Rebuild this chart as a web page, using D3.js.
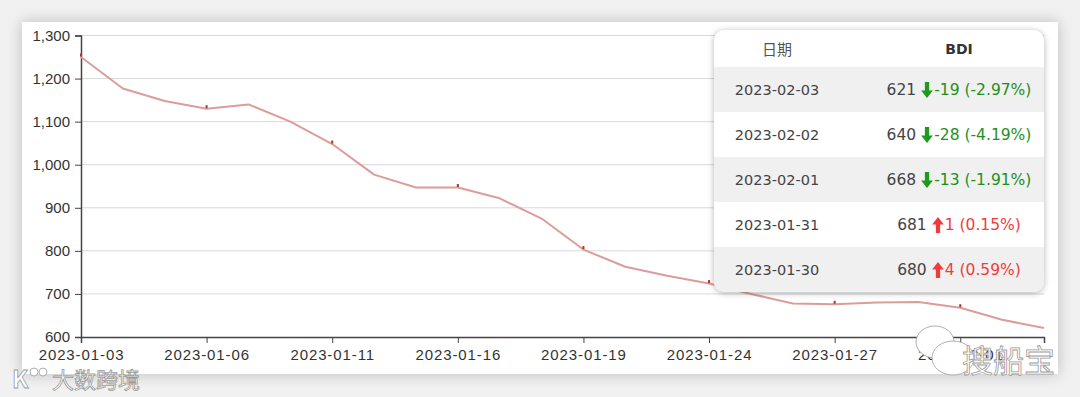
<!DOCTYPE html>
<html>
<head>
<meta charset="utf-8">
<script src="https://cdn.jsdelivr.net/npm/d3@7"></script>
<style>
  html, body { margin: 0; padding: 0; }
  body { width: 1080px; height: 397px; background: #f1f1f1; position: relative; overflow: hidden; }
  .card { position: absolute; left: 22px; top: 22px; width: 1036px; height: 352px; background: #fff;
          box-shadow: 0 0 14px rgba(0,0,0,0.22); }
  #chart { position: absolute; left: 0; top: 0; }
  .tip { position: absolute; left: 714px; top: 30px; width: 330px; background: #fff; border-radius: 10px;
         box-shadow: 0 1px 6px rgba(0,0,0,0.3); overflow: hidden; font-family: "DejaVu Sans", sans-serif;
         font-size: 14.5px; color: #444; }
  .tip .row { display: flex; height: 45px; align-items: center; }
  .tip .row.head { height: 37px; color: #555; }
  .tip .row.alt { background: #f0f0f0; }
  .tip .c1 { width: 126px; text-align: center; }
  .tip .c2 { width: 170px; margin-left: auto; text-align: center; white-space: nowrap; font-size: 15.5px; }
  .tip .c2 svg { vertical-align: -3px; margin: 0 1px 0 5px; }
  .tip .head .c1 { font-family: "Noto Sans CJK SC", sans-serif; font-size: 15px; }
  .tip .head .c2 { font-weight: bold; color: #333; font-size: 14px; }
</style>
</head>
<body>
<div class="card"></div>
<svg id="chart" width="1080" height="397"></svg>
<div class="tip" id="tip"></div>
<script>
// BDI daily values, trading days only
const dates = ["2023-01-03", "2023-01-04", "2023-01-05", "2023-01-06", "2023-01-09", "2023-01-10",
  "2023-01-11", "2023-01-12", "2023-01-13", "2023-01-16", "2023-01-17", "2023-01-18",
  "2023-01-19", "2023-01-20", "2023-01-23", "2023-01-24", "2023-01-25", "2023-01-26",
  "2023-01-27", "2023-01-30", "2023-01-31", "2023-02-01", "2023-02-02", "2023-02-03"];
const bdi = [1250, 1177, 1148, 1130, 1140, 1100, 1048, 977, 947, 947, 922, 875,
  803, 763, 742, 724, 700, 678, 676, 680, 681, 668, 640, 621];
const yTicks = [600, 700, 800, 900, 1000, 1100, 1200, 1300];
const tipCount = 5; // last days shown in the table

const svg = d3.select("#chart");
const x = d3.scalePoint().domain(dates).range([81, 1044]);
const y = d3.scaleLinear().domain([600, 1300]).range([337, 35.5]);

// grid
svg.append("g")
  .selectAll("line")
  .data(yTicks.filter(d => d > 600))
  .join("line")
  .attr("x1", 81).attr("x2", 1044)
  .attr("y1", d => y(d)).attr("y2", d => y(d))
  .attr("stroke", "#d9d9d9").attr("stroke-width", 1);

const axisFont = g => g.selectAll("text")
  .attr("font-family", "'Liberation Sans', Arial, sans-serif")
  .attr("font-size", 15).attr("fill", "#333");

svg.append("g")
  .attr("transform", "translate(81,0)")
  .call(d3.axisLeft(y).tickValues(yTicks).tickFormat(d3.format(",")).tickSize(6).tickPadding(5))
  .call(g => g.select(".domain").attr("stroke", "#444").attr("stroke-width", 1.5))
  .call(g => g.selectAll(".tick line").attr("stroke", "#444"))
  .call(axisFont);

svg.append("g")
  .attr("transform", "translate(0,337)")
  .call(d3.axisBottom(x).tickValues(dates.filter((d, i) => i % 3 === 0)).tickSize(6).tickPadding(6))
  .call(g => g.select(".domain").attr("stroke", "#444").attr("stroke-width", 1.5))
  .call(g => g.selectAll(".tick line").attr("stroke", "#444"))
  .call(axisFont)
  .call(g => g.selectAll("text").attr("letter-spacing", "0.9px"));

// line
const line = d3.line().x((d, i) => x(dates[i])).y(d => y(d));
svg.append("path")
  .datum(bdi)
  .attr("d", line)
  .attr("fill", "none")
  .attr("stroke", "#dc9d9a")
  .attr("stroke-width", 2)
  .attr("stroke-linejoin", "round");

// small markers on tick days
svg.append("g")
  .selectAll("rect")
  .data(bdi.map((v, i) => [dates[i], v]).filter((d, i) => i % 3 === 0))
  .join("rect")
  .attr("x", d => x(d[0]) - 1)
  .attr("y", d => y(d[1]) - 3.5)
  .attr("width", 2).attr("height", 3)
  .attr("fill", "#b3302c");

// watermarks
const wm = svg.append("g")
  .attr("fill", "#fff").attr("stroke", "#9a9a9a").attr("stroke-width", 0.8)
  .attr("font-family", "'Noto Sans CJK SC', sans-serif");
wm.append("text").attr("x", 12).attr("y", 388).attr("font-size", 24).attr("font-weight", "bold").text("K");
wm.append("circle").attr("cx", 34).attr("cy", 372).attr("r", 4);
wm.append("circle").attr("cx", 43).attr("cy", 372).attr("r", 4);
wm.append("text").attr("x", 52).attr("y", 388).attr("font-size", 22).text("大数跨境");
wm.append("ellipse").attr("cx", 935).attr("cy", 342).attr("rx", 19).attr("ry", 16);
wm.append("ellipse").attr("cx", 953).attr("cy", 358).attr("rx", 21).attr("ry", 17);
wm.append("text").attr("x", 962).attr("y", 372).attr("font-size", 31).text("搜船宝");

// table of the latest days
const tip = d3.select("#tip");
const head = tip.append("div").attr("class", "row head");
head.append("div").attr("class", "c1").text("日期");
head.append("div").attr("class", "c2").text("BDI");

const upArrow = '<svg width="12" height="16" viewBox="0 0 11 15"><path d="M5.5 0 L11 7 L7.5 7 L7.5 15 L3.5 15 L3.5 7 L0 7 Z" fill="#f03c3c"/></svg>';
const downArrow = '<svg width="12" height="16" viewBox="0 0 11 15"><path d="M3.5 0 L7.5 0 L7.5 8 L11 8 L5.5 15 L0 8 L3.5 8 Z" fill="#1e9a1e"/></svg>';

const n = bdi.length;
const rows = d3.range(n - 1, n - 1 - tipCount, -1).map(i => {
  const diff = bdi[i] - bdi[i - 1];
  return { date: dates[i], value: bdi[i], diff: diff, pct: diff / bdi[i - 1] * 100 };
});

rows.forEach((r, k) => {
  const row = tip.append("div").attr("class", "row" + (k % 2 === 0 ? " alt" : ""));
  row.append("div").attr("class", "c1").text(r.date);
  const up = r.diff >= 0;
  const c2 = row.append("div").attr("class", "c2");
  c2.append("span").text(r.value);
  c2.append("span").html(up ? upArrow : downArrow);
  c2.append("span")
    .style("color", up ? "#f03c3c" : "#1e8f1e")
    .text(`${r.diff} (${r.pct.toFixed(2)}%)`);
});
</script>
</body>
</html>
